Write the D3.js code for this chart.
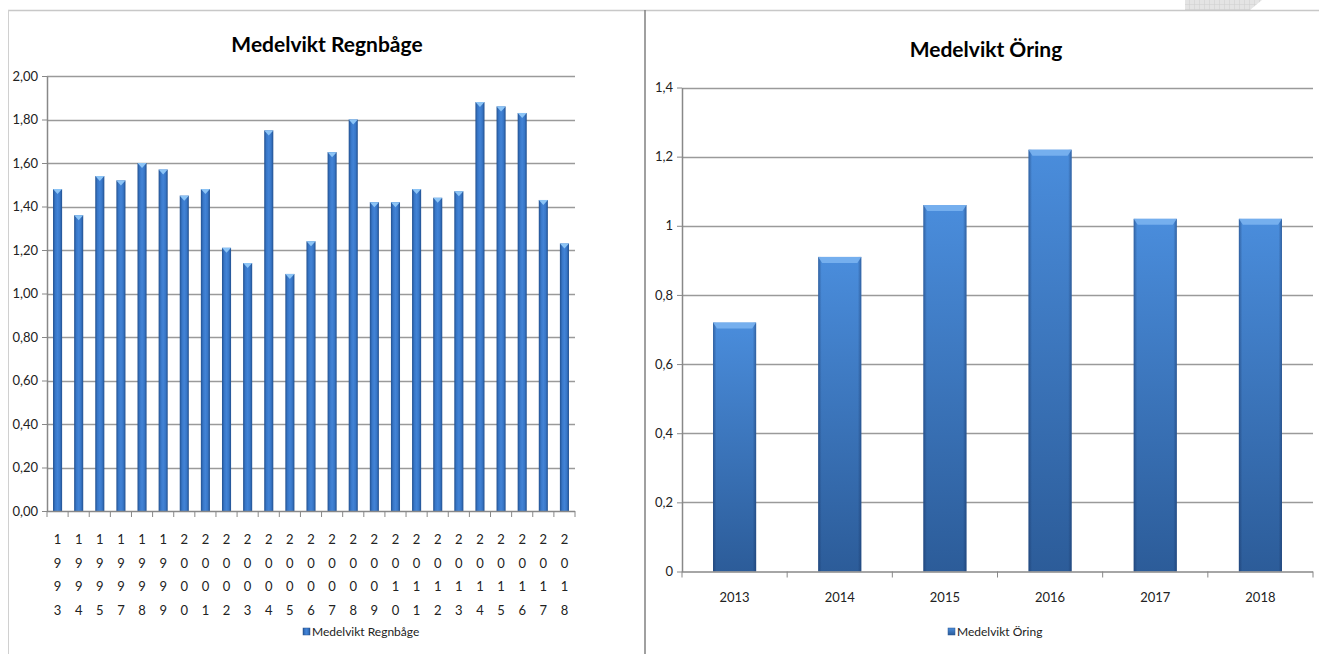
<!DOCTYPE html>
<html>
<head>
<meta charset="utf-8">
<script src="https://cdn.jsdelivr.net/npm/d3@7"></script>
<style>
  html, body { margin: 0; padding: 0; background: #fff; }
  svg { display: block; font-family: Lato, "Liberation Sans Narrow", "DejaVu Sans Condensed", sans-serif; }
  .title { font-weight: bold; fill: #000; }
  .lbl { fill: #222; }
</style>
</head>
<body>
<svg id="chart" width="1319" height="654"></svg>
<script>
// Medelvikt Regnbåge
var regnYears = ["1993","1994","1995","1997","1998","1999","2000","2001","2002","2003","2004","2005",
                 "2006","2007","2008","2009","2010","2011","2012","2013","2014","2015","2016","2017","2018"];
var regnValues = [1.48,1.36,1.54,1.52,1.60,1.57,1.45,1.48,1.21,1.14,1.75,1.09,
                  1.24,1.65,1.80,1.42,1.42,1.48,1.44,1.47,1.88,1.86,1.83,1.43,1.23];
var regnTicks = [0,0.2,0.4,0.6,0.8,1.0,1.2,1.4,1.6,1.8,2.0];

// Medelvikt Öring
var oringYears = ["2013","2014","2015","2016","2017","2018"];
var oringValues = [0.72,0.91,1.06,1.22,1.02,1.02];
var oringTicks = [0,0.2,0.4,0.6,0.8,1.0,1.2,1.4];

var svg = d3.select("#chart");
var defs = svg.append("defs");

// gradients, excel style
var g1 = defs.append("linearGradient").attr("id", "barH").attr("x1", "0").attr("x2", "1").attr("y1", "0").attr("y2", "0");
[["0%", "#22508f"], ["25%", "#3877c8"], ["50%", "#4283d6"], ["75%", "#3877c8"], ["100%", "#22508f"]].forEach(function(s){
    g1.append("stop").attr("offset", s[0]).attr("stop-color", s[1]);
});
var g2 = defs.append("linearGradient").attr("id", "barV").attr("x1", "0").attr("x2", "0").attr("y1", "0").attr("y2", "1");
[["0%", "#4a8ddc"], ["100%", "#2c5c99"]].forEach(function(s){
    g2.append("stop").attr("offset", s[0]).attr("stop-color", s[1]);
});
var g3 = defs.append("linearGradient").attr("id", "edge").attr("x1", "0").attr("x2", "1").attr("y1", "0").attr("y2", "0");
[["0%", "rgba(20,45,90,0.45)"], ["8%", "rgba(20,45,90,0)"], ["92%", "rgba(20,45,90,0)"], ["100%", "rgba(20,45,90,0.45)"]].forEach(function(s){
    g3.append("stop").attr("offset", s[0]).attr("stop-color", s[1]);
});

// watermark corner top right
var pat = defs.append("pattern").attr("id", "grid").attr("width", 5).attr("height", 5).attr("patternUnits", "userSpaceOnUse");
pat.append("rect").attr("width", 5).attr("height", 5).attr("fill", "#e4e4e4");
pat.append("path").attr("d", "M5 0 V5 M0 5 H5").attr("stroke", "#cfcfcf").attr("stroke-width", 1);
svg.append("path").attr("d", "M1185 0 L1262 0 L1250 10 L1185 10 Z").attr("fill", "url(#grid)");

// panel frames
svg.append("line").attr("x1", 8).attr("x2", 1319).attr("y1", 10.5).attr("y2", 10.5).attr("stroke", "#c8c8c8").attr("stroke-width", 1.5);
svg.append("line").attr("x1", 8.5).attr("x2", 8.5).attr("y1", 10).attr("y2", 654).attr("stroke", "#d0d0d0").attr("stroke-width", 1);
svg.append("line").attr("x1", 645).attr("x2", 645).attr("y1", 10).attr("y2", 654).attr("stroke", "#808080").attr("stroke-width", 1.5);

function drawChart(opt){
    var g = svg.append("g");
    var x = d3.scaleBand().domain(opt.cats).range([opt.x0, opt.x1])
        .paddingInner(opt.pad).paddingOuter(opt.pad / 2);
    var y = d3.scaleLinear().domain([0, opt.max]).range([opt.y0, opt.y1]);

    // gridlines
    g.selectAll(".grid").data(opt.ticks.slice(1)).enter().append("line")
        .attr("x1", opt.x0).attr("x2", opt.x1)
        .attr("y1", function(d){ return Math.round(y(d)) + 0.5; })
        .attr("y2", function(d){ return Math.round(y(d)) + 0.5; })
        .attr("stroke", "#9a9a9a").attr("stroke-width", 1.5);

    // y axis
    var ya = d3.axisLeft(y).tickValues(opt.ticks).tickSize(5).tickSizeOuter(0).tickPadding(4)
        .tickFormat(opt.yfmt);
    var yg = g.append("g").attr("transform", "translate(" + opt.x0 + ",0)").call(ya);
    yg.attr("font-family", null);
    yg.select(".domain").attr("stroke", "#888").attr("stroke-width", 1.5);
    yg.selectAll(".tick line").attr("stroke", "#888");
    yg.selectAll("text").attr("class", "lbl").style("font-size", "13px").attr("fill", "#222");

    // bars
    var bars = g.selectAll(".bar").data(opt.values).enter().append("g");
    bars.append("rect")
        .attr("x", function(d, i){ return x(opt.cats[i]); })
        .attr("y", function(d){ return y(d); })
        .attr("width", x.bandwidth())
        .attr("height", function(d){ return y(0) - y(d); })
        .attr("fill", opt.wide ? "url(#barV)" : "url(#barH)");
    if (opt.wide){
        bars.append("rect")
            .attr("x", function(d, i){ return x(opt.cats[i]); })
            .attr("y", function(d){ return y(d); })
            .attr("width", x.bandwidth())
            .attr("height", function(d){ return y(0) - y(d); })
            .attr("fill", "url(#edge)");
        // bevel at the top
        bars.append("path")
            .attr("d", function(d, i){
                var bx = x(opt.cats[i]), by = y(d), w = x.bandwidth();
                return "M" + bx + "," + by + "H" + (bx + w) + "L" + (bx + w - 4) + "," + (by + 6) +
                    "H" + (bx + 4) + "Z";
            })
            .attr("fill", "#7ab3f0").attr("opacity", 0.9);
    } else {
        bars.append("path")
            .attr("d", function(d, i){
                var bx = x(opt.cats[i]), by = y(d), w = x.bandwidth();
                return "M" + bx + "," + by + "H" + (bx + w) + "L" + (bx + w / 2) + "," + (by + 5) + "Z";
            })
            .attr("fill", "#8cc4f6");
    }

    // x axis line + boundary ticks
    var step = x.step();
    g.append("line").attr("x1", opt.x0).attr("x2", opt.x1)
        .attr("y1", opt.y0 + 0.5).attr("y2", opt.y0 + 0.5)
        .attr("stroke", "#888").attr("stroke-width", 1.5);
    g.selectAll(".xt").data(d3.range(opt.cats.length + 1)).enter().append("line")
        .attr("x1", function(i){ return opt.x0 + i * step; })
        .attr("x2", function(i){ return opt.x0 + i * step; })
        .attr("y1", opt.y0).attr("y2", opt.y0 + 6)
        .attr("stroke", "#888").attr("stroke-width", 1);

    // category labels
    if (opt.stacked){
        opt.cats.forEach(function(c, i){
            var cx = x(c) + x.bandwidth() / 2;
            c.split("").forEach(function(ch, k){
                g.append("text").attr("class", "lbl")
                    .attr("x", cx).attr("y", opt.y0 + 33 + k * 23.5)
                    .attr("text-anchor", "middle").style("font-size", "13px").text(ch);
            });
        });
    } else {
        g.selectAll(".xl").data(opt.cats).enter().append("text").attr("class", "lbl")
            .attr("x", function(d){ return x(d) + x.bandwidth() / 2; })
            .attr("y", opt.y0 + 30)
            .attr("text-anchor", "middle").style("font-size", "13px").text(function(d){ return d; });
    }

    // title
    g.append("text").attr("class", "title").attr("x", opt.tx).attr("y", opt.ty)
        .attr("text-anchor", "middle").style("font-size", "21px").text(opt.title);

    // legend
    var lg = g.append("g").attr("transform", "translate(" + opt.lx + ",636)");
    lg.append("rect").attr("x", 0).attr("y", -8).attr("width", 7).attr("height", 7)
        .attr("fill", opt.wide ? "url(#barV)" : "url(#barH)").attr("stroke", "#2a5590").attr("stroke-width", 0.5);
    lg.append("text").attr("class", "lbl").attr("x", 9).attr("y", 0)
        .style("font-size", "12px").text(opt.title);
}

drawChart({
    cats: regnYears, values: regnValues, ticks: regnTicks, max: 2.0,
    x0: 47, x1: 575, y0: 511, y1: 76, pad: 0.57,
    yfmt: function(d){ return d.toFixed(2).replace(".", ","); },
    stacked: true, wide: false,
    title: "Medelvikt Regnbåge", tx: 327, ty: 52, lx: 303
});

drawChart({
    cats: oringYears, values: oringValues, ticks: oringTicks, max: 1.4,
    x0: 682, x1: 1313, y0: 571.5, y1: 87.5, pad: 0.59,
    yfmt: function(d){ return d === 0 ? "0" : d === 1 ? "1" : String(+d.toFixed(1)).replace(".", ","); },
    stacked: false, wide: true,
    title: "Medelvikt Öring", tx: 986, ty: 57, lx: 948
});
</script>
</body>
</html>
